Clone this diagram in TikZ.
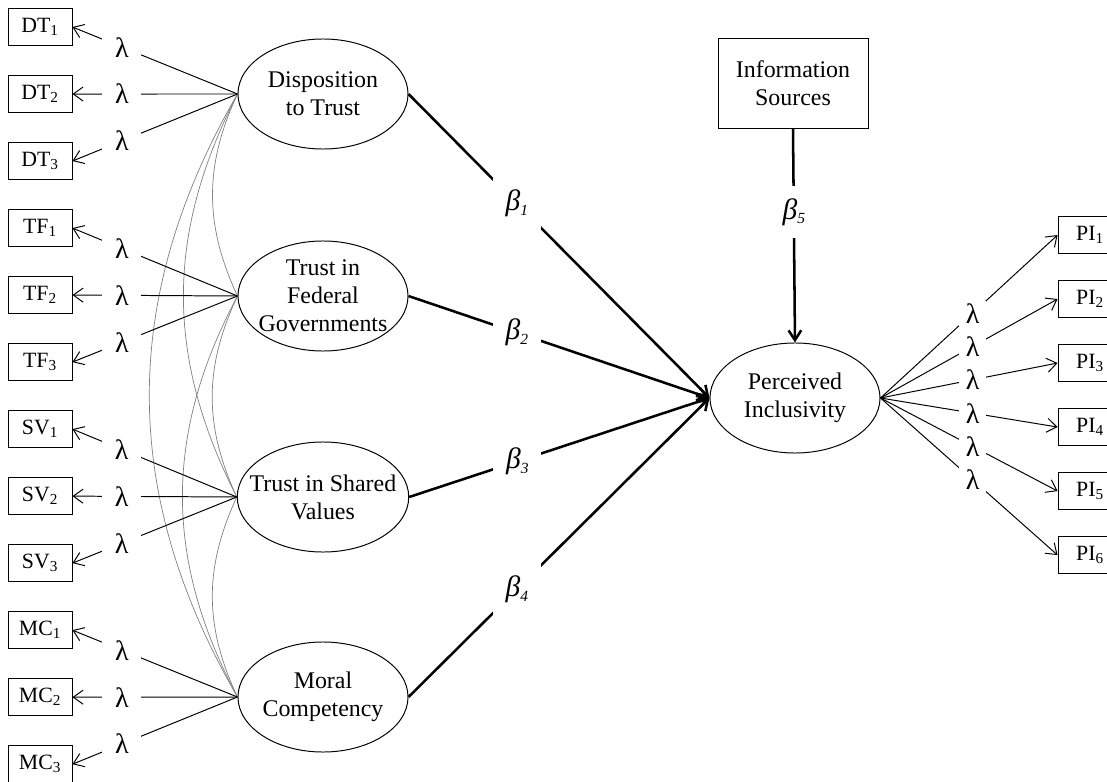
\documentclass[tikz,border=0pt]{standalone}
\usepackage{fontspec}
\setmainfont{Liberation Serif}
\usetikzlibrary{shapes.geometric, arrows.meta}
\tikzstyle{latent} = [ellipse, draw=black, line width=0.7pt, minimum width=4.25cm, minimum height=2.75cm, inner sep=-9pt, align=center, font=\fontsize{17}{20}\selectfont]
\tikzstyle{obs} = [rectangle, draw=black, line width=0.6pt, minimum width=1.6cm, minimum height=0.925cm, inner sep=0pt, font=\fontsize{15.5}{18}\selectfont]
\tikzstyle{source} = [rectangle, draw=black, line width=0.6pt, minimum width=3.75cm, minimum height=2.25cm, align=center, font=\fontsize{17}{20}\selectfont]
\tikzstyle{load} = [line width=0.7pt, -{Straight Barb[length=7pt,width=10pt]}]
\tikzstyle{regr} = [line width=1.8pt, -{Straight Barb[length=7pt,width=9pt]}]
\tikzstyle{cov} = [gray, line width=0.5pt]
\tikzstyle{lam} = [fill=white, inner xsep=9pt, inner ysep=2pt, font=\fontsize{20}{22}\selectfont]
\tikzstyle{lamr} = [lam, inner xsep=5pt]
\tikzstyle{coef} = [fill=white, inner sep=9pt, font=\fontsize{21}{24}\selectfont\itshape]
\newcommand{\coefsub}[1]{\raisebox{-0.15em}{\fontsize{11}{11}\selectfont #1}}

\begin{document}
\begin{tikzpicture}[x=0.025cm, y=-0.025cm, node distance=1.675cm]
\useasboundingbox (0,0) rectangle (1107,782);

% Latent variables
\node (dt) [latent] at (323,94) {Disposition\\to Trust};
\node (tf) [latent] at (323,296) {Trust in\\Federal\\Governments};
\node (sv) [latent] at (323,497) {Trust in Shared\\Values};
\node (mc) [latent] at (323,697) {Moral\\Competency};
\node (pi) [latent] at (795,398) {Perceived\\Inclusivity};
\node (info) [source] at (793,83) {Information\\Sources};

% Indicators (left)
\node (dt1) [obs] at (40,27) {DT\textsubscript{1}};
\node (dt2) [obs, below of=dt1] {DT\textsubscript{2}};
\node (dt3) [obs, below of=dt2] {DT\textsubscript{3}};
\node (tf1) [obs, below of=dt3] {TF\textsubscript{1}};
\node (tf2) [obs, below of=tf1] {TF\textsubscript{2}};
\node (tf3) [obs, below of=tf2] {TF\textsubscript{3}};
\node (sv1) [obs, below of=tf3] {SV\textsubscript{1}};
\node (sv2) [obs, below of=sv1] {SV\textsubscript{2}};
\node (sv3) [obs, below of=sv2] {SV\textsubscript{3}};
\node (mc1) [obs, below of=sv3] {MC\textsubscript{1}};
\node (mc2) [obs, below of=mc1] {MC\textsubscript{2}};
\node (mc3) [obs, below of=mc2] {MC\textsubscript{3}};

% Indicators (right)
\node (pi1) [obs] at (1090,235) {PI\textsubscript{1}};
\node (pi2) [obs, below of=pi1, node distance=1.6cm] {PI\textsubscript{2}};
\node (pi3) [obs, below of=pi2, node distance=1.6cm] {PI\textsubscript{3}};
\node (pi4) [obs, below of=pi3, node distance=1.6cm] {PI\textsubscript{4}};
\node (pi5) [obs, below of=pi4, node distance=1.6cm] {PI\textsubscript{5}};
\node (pi6) [obs, below of=pi5, node distance=1.6cm] {PI\textsubscript{6}};

% Covariances
\draw [cov] (dt.west) to[bend right=25] (tf.west);
\draw [cov] (dt.west) to[bend right=27] (sv.west);
\draw [cov] (dt.west) to[bend right=30] (mc.west);
\draw [cov] (tf.west) to[bend right=25] (sv.west);
\draw [cov] (tf.west) to[bend right=28] (mc.west);
\draw [cov] (sv.west) to[bend right=25] (mc.west);

% Loadings
\draw [load] (dt.west) -- node[lam, pos=0.7] {λ} (dt1.east);
\draw [load] (dt.west) -- node[lam, pos=0.7] {λ} (dt2.east);
\draw [load] (dt.west) -- node[lam, pos=0.7] {λ} (dt3.east);
\draw [load] (tf.west) -- node[lam, pos=0.7] {λ} (tf1.east);
\draw [load] (tf.west) -- node[lam, pos=0.7] {λ} (tf2.east);
\draw [load] (tf.west) -- node[lam, pos=0.7] {λ} (tf3.east);
\draw [load] (sv.west) -- node[lam, pos=0.7] {λ} (sv1.east);
\draw [load] (sv.west) -- node[lam, pos=0.7] {λ} (sv2.east);
\draw [load] (sv.west) -- node[lam, pos=0.7] {λ} (sv3.east);
\draw [load] (mc.west) -- node[lam, pos=0.7] {λ} (mc1.east);
\draw [load] (mc.west) -- node[lam, pos=0.7] {λ} (mc2.east);
\draw [load] (mc.west) -- node[lam, pos=0.7] {λ} (mc3.east);
\draw [load] (pi.east) -- node[lamr, pos=0.52] {λ} (pi1.west);
\draw [load] (pi.east) -- node[lamr, pos=0.52] {λ} (pi2.west);
\draw [load] (pi.east) -- node[lamr, pos=0.52] {λ} (pi3.west);
\draw [load] (pi.east) -- node[lamr, pos=0.52] {λ} (pi4.west);
\draw [load] (pi.east) -- node[lamr, pos=0.52] {λ} (pi5.west);
\draw [load] (pi.east) -- node[lamr, pos=0.52] {λ} (pi6.west);

% Structural paths
\draw [regr] (dt.east) -- node[coef, pos=0.36] {β\coefsub{1}} (pi.west);
\draw [regr] (tf.east) -- node[coef, pos=0.36] {β\coefsub{2}} (pi.west);
\draw [regr] (sv.east) -- node[coef, pos=0.36] {β\coefsub{3}} (pi.west);
\draw [regr] (mc.east) -- node[coef, pos=0.36] {β\coefsub{4}} (pi.west);
\draw [regr] (info.south) -- node[coef, pos=0.39] {β\coefsub{5}} (pi.north);

\end{tikzpicture}
\end{document}
